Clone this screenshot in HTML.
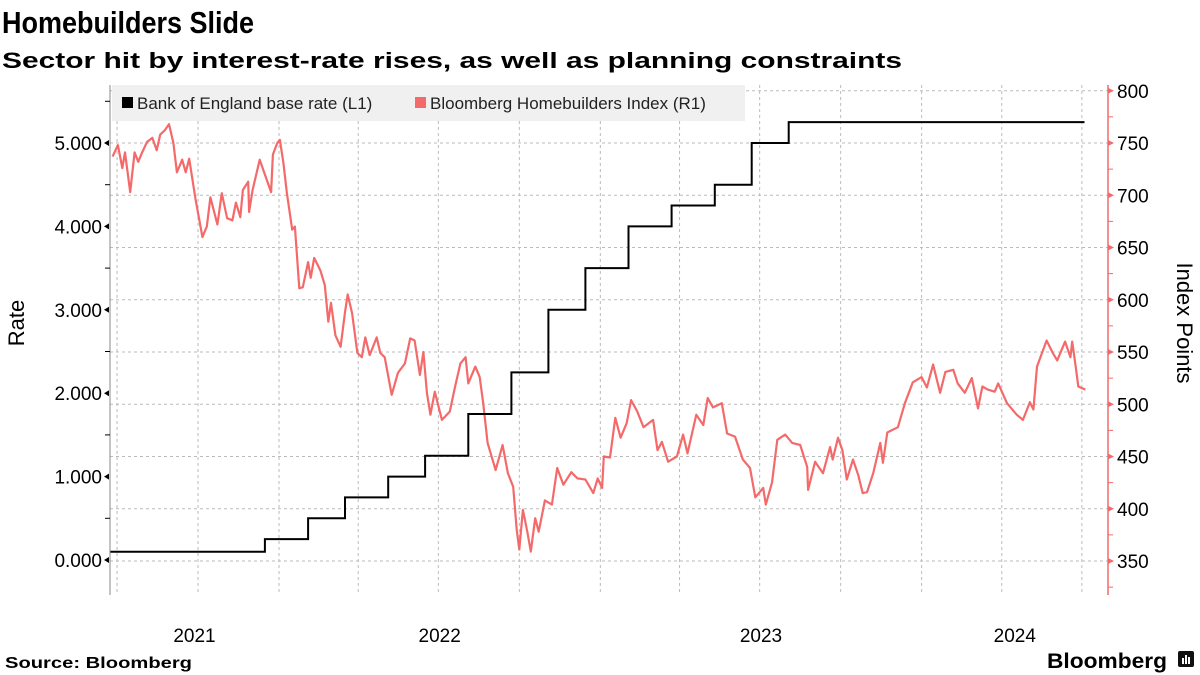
<!DOCTYPE html>
<html><head><meta charset="utf-8">
<style>
html,body{margin:0;padding:0;background:#fff;}
svg{display:block;font-family:"Liberation Sans",sans-serif;}
</style></head>
<body>
<svg id="chart" width="1200" height="675" viewBox="0 0 1200 675" xmlns="http://www.w3.org/2000/svg">
<text x="2" y="33" font-family="Liberation Sans, sans-serif" font-weight="bold" font-size="31" textLength="252" lengthAdjust="spacingAndGlyphs">Homebuilders Slide</text>
<text x="2" y="68" font-family="Liberation Sans, sans-serif" font-weight="bold" font-size="22" textLength="900" lengthAdjust="spacingAndGlyphs">Sector hit by interest-rate rises, as well as planning constraints</text>
<g id="grid"></g>
<rect x="112" y="85" width="633" height="36" fill="#f0f0f0"/>
<g id="series"></g>
<g id="axes"></g>
<g>
 <g>
  <rect x="122" y="97" width="11" height="11" fill="#000"/>
  <text x="137" y="109" font-size="17" fill="#222">Bank of England base rate (L1)</text>
 </g>
 <g>
  <rect x="415" y="97" width="11" height="11" fill="#f46a6a"/>
  <text x="430" y="109" font-size="17" fill="#222">Bloomberg Homebuilders Index (R1)</text>
 </g>
</g>
<text transform="translate(24,323) rotate(-90)" text-anchor="middle" font-size="22">Rate</text>
<text transform="translate(1177,323) rotate(90)" text-anchor="middle" font-size="22">Index Points</text>
<text x="5" y="668" font-family="Liberation Sans, sans-serif" font-weight="bold" font-size="16" textLength="187" lengthAdjust="spacingAndGlyphs">Source: Bloomberg</text>
<g>
 <text x="1047" y="668" font-family="Liberation Sans, sans-serif" font-weight="bold" font-size="21" textLength="120" lengthAdjust="spacingAndGlyphs">Bloomberg</text>
 <rect x="1178" y="651" width="16" height="16" rx="2" fill="#111"/>
 <rect x="1182" y="658" width="2" height="6" fill="#fff"/><rect x="1185" y="655" width="2" height="9" fill="#fff"/><rect x="1188" y="657" width="2" height="7" fill="#fff"/>
</g>
</svg>
<script>
const startDate = "2021-06-23";
const endDate = "2024-07-04";
const rateDates = ["2021-06-23","2021-12-16","2022-02-03","2022-03-17","2022-05-05","2022-06-16","2022-08-04","2022-09-22","2022-11-03","2022-12-15","2023-02-02","2023-03-23","2023-05-11","2023-06-22","2023-08-03"];
const rateValues = [0.1,0.25,0.5,0.75,1.0,1.25,1.75,2.25,3.0,3.5,4.0,4.25,4.5,5.0,5.25];
const indexDays = [3,9,14,17,23,28,32,36,42,48,53,57,62,67,72,76,82,86,90,97,105,110,114,122,127,133,139,143,148,151,157,158,162,170,178,183,185,190,193,197,201,207,210,215,219,225,228,232,239,244,248,251,256,262,267,270,275,281,286,290,295,303,307,312,320,327,335,341,346,352,356,360,364,369,377,386,392,398,404,407,415,420,424,429,438,446,452,458,462,465,469,474,478,483,487,494,502,508,515,524,531,540,549,554,559,561,568,574,580,587,592,599,606,617,622,627,634,644,651,656,666,674,679,685,695,701,710,719,727,733,742,745,752,758,767,775,784,792,793,801,810,818,821,827,832,837,844,850,855,860,867,875,878,883,895,903,912,922,928,935,943,949,958,963,971,979,986,991,997,1005,1009,1019,1030,1037,1045,1049,1053,1064,1071,1076,1085,1091,1093,1097,1100,1108];
const indexValues = [737,748,726,741,703,741,732,740,751,755,743,758,762,768,750,722,734,722,735,697,660,670,698,672,702,678,676,693,679,705,713,684,705,734,715,703,739,750,753,731,702,667,670,611,612,636,621,640,628,614,579,597,566,555,588,605,587,549,545,564,547,564,549,545,509,530,539,563,561,528,550,511,490,512,485,493,517,539,545,520,536,526,501,463,437,461,434,421,380,361,399,378,359,391,378,408,404,439,423,435,429,428,415,429,420,450,449,487,468,482,504,493,478,485,456,464,445,450,471,453,490,480,506,497,501,472,469,447,439,411,420,404,425,466,471,463,461,440,418,445,434,459,447,468,456,428,447,432,415,416,434,463,444,473,478,501,521,526,516,538,511,531,533,520,511,525,496,517,514,512,520,501,490,485,502,495,536,561,549,542,560,545,560,536,517,514];
const leftTicks = [0,1,2,3,4,5];
const leftTickLabels = ["0.000","1.000","2.000","3.000","4.000","5.000"];
const rightTicks = [350,400,450,500,550,600,650,700,750,800];
const yearLabels = ["2021","2022","2023","2024"];

const NS="http://www.w3.org/2000/svg";
const X0=110, X1=1108, PT=85, PB=595;
const t0=Date.parse(startDate);
function dayOf(s){return (Date.parse(s)-t0)/86400000;}
function xScale(d){return X0+d*0.8803;}
function yLeft(v){return 560-v*83.4;}
function yRight(v){return 561-(v-350)*52.25/50;}
function mk(tag,attrs,parent){const e=document.createElementNS(NS,tag);for(const k in attrs)e.setAttribute(k,attrs[k]);parent.appendChild(e);return e;}
const grid=document.getElementById('grid'),series=document.getElementById('series'),axes=document.getElementById('axes');

rightTicks.forEach(v=>{const y=yRight(v);if(y<PT)return;
 const l=mk('line',{x1:X0,x2:X1,y1:y,y2:y,stroke:'#bbb','stroke-dasharray':'3,3','stroke-width':1},grid);
 
 });
const endDay=dayOf(endDate);
for(let yr=2021;yr<=2024;yr++){for(const m of ["01","04","07","10"]){const d=dayOf(yr+"-"+m+"-01");const x=xScale(d);if(x<=X0+1||x>=X1-2)continue;
 const l=mk('line',{x1:x,x2:x,y1:PT,y2:PB,stroke:'#bbb','stroke-dasharray':'3,3','stroke-width':1},grid);
 
 }}

let p="";indexDays.forEach((d,i)=>{p+=(i?"L":"M")+xScale(d).toFixed(1)+","+yRight(indexValues[i]).toFixed(1);});
const ip=mk('path',{d:p,fill:'none',stroke:'#f46a6a','stroke-width':2.2,'stroke-linejoin':'round'},series);


let rp="";rateDates.forEach((s,i)=>{const x=xScale(dayOf(s)),y=yLeft(rateValues[i]);rp+=(i?"L"+x.toFixed(1)+","+yLeft(rateValues[i-1]).toFixed(1)+"L":"M")+x.toFixed(1)+","+y.toFixed(1);});
rp+="L"+xScale(endDay).toFixed(1)+","+yLeft(rateValues[rateValues.length-1]).toFixed(1);
const rl=mk('path',{d:rp,fill:'none',stroke:'#000','stroke-width':2},series);



const la=mk('line',{x1:X0,x2:X0,y1:PT,y2:PB,stroke:'#888','stroke-width':1},axes);


leftTicks.forEach((v,i)=>{const y=yLeft(v);
 const tk=mk('path',{d:`M${X0-1},${y-3}L${X0-6},${y}L${X0-1},${y+3}Z`,fill:'#000'},axes);
 
 
 const mt=mk('line',{x1:X0-5,x2:X0,y1:yLeft(v+0.5),y2:yLeft(v+0.5),stroke:'#000'},axes);
 
 
 const t=mk('text',{x:X0-8,y:y+7,'text-anchor':'end','font-size':19},axes);t.textContent=leftTickLabels[i];
 
 });
const ra=mk('line',{x1:X1,x2:X1,y1:PT,y2:PB,stroke:'#f46a6a','stroke-width':1.5},axes);


rightTicks.forEach(v=>{const y=yRight(v);
 const tk=mk('path',{d:`M${X1},${y-3}L${X1+6},${y}L${X1},${y+3}Z`,fill:'#f46a6a'},axes);
 
 
 const mt=mk('line',{x1:X1,x2:X1+5,y1:yRight(v-25),y2:yRight(v-25),stroke:'#f46a6a'},axes);
 
 
 const t=mk('text',{x:X1+9,y:y+7,'font-size':19},axes);t.textContent=v;
 
 });
yearLabels.forEach(yr=>{const a=Math.max(X0,xScale(dayOf(yr+"-01-01"))),b=Math.min(X1,xScale(dayOf((+yr+1)+"-01-01")));
 const t=mk('text',{x:(a+b)/2,y:642,'text-anchor':'middle','font-size':19},axes);t.textContent=yr;
 
 });
</script>
</body></html>
